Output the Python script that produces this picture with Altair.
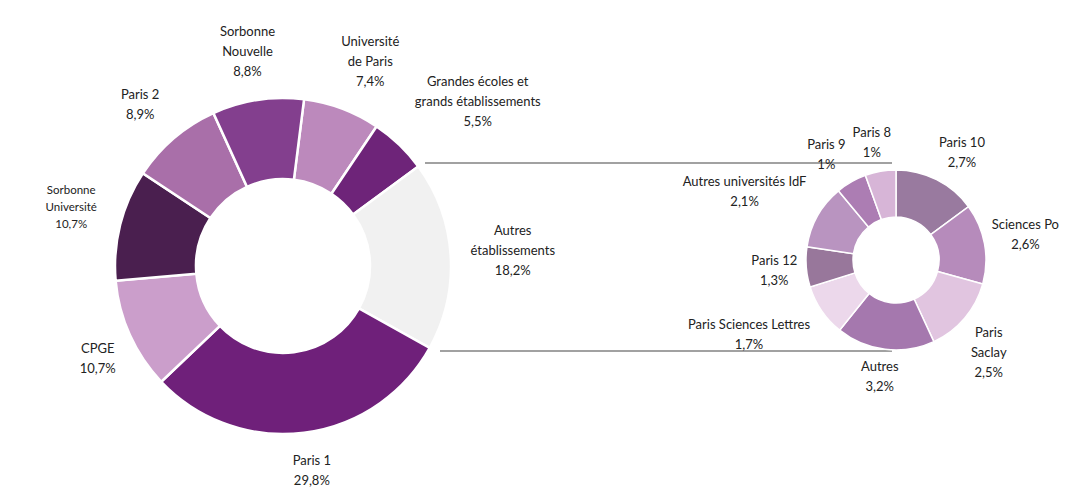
import math
import altair as alt
import pandas as pd

# ---- data -------------------------------------------------------------
big_names = ["Université de Paris", "Grandes écoles et grands établissements",
             "Autres établissements", "Paris 1", "CPGE", "Sorbonne Université",
             "Paris 2", "Sorbonne Nouvelle"]
big_label_lines = ["Université\nde Paris", "Grandes écoles et\ngrands établissements",
                   "Autres\nétablissements", "Paris 1", "CPGE", "Sorbonne\nUniversité",
                   "Paris 2", "Sorbonne\nNouvelle"]
big_values = [7.4, 5.5, 18.2, 29.8, 10.7, 10.7, 8.9, 8.8]
big_colors = ["#bc89bc", "#6e2479", "#f1f1f1", "#6f207a", "#cb9ecb", "#4a1f4f",
              "#a96fa9", "#833f8e"]

small_names = ["Paris 10", "Sciences Po", "Paris Saclay", "Autres",
               "Paris Sciences Lettres", "Paris 12", "Autres universités IdF",
               "Paris 9", "Paris 8"]
small_label_lines = ["Paris 10", "Sciences Po", "Paris\nSaclay", "Autres",
                     "Paris Sciences Lettres", "Paris 12", "Autres universités IdF",
                     "Paris 9", "Paris 8"]
small_values = [2.7, 2.6, 2.5, 3.2, 1.7, 1.3, 2.1, 1.0, 1.0]
small_colors = ["#997a9f", "#b68bbb", "#e1c5e0", "#a578ae", "#ecd8eb", "#98779b",
                "#b994c0", "#ac7db3", "#d7b5d7"]

SMALL_FONT_LABEL = "Sorbonne Université"
FONT = "Lato"
TEXT_COLOR = "#222222"


def pct(v):
    return f"{v:g}".replace(".", ",") + "%"


def frame(names, lines, values):
    txt = [l + "\n" + pct(v) for l, v in zip(lines, values)]
    return pd.DataFrame({
        "name": names,
        "value": values,
        "idx": list(range(len(names))),
        "txt": txt,
        "nlines": [t.count("\n") + 1 for t in txt],
        "maxlen": [max(len(s) for s in t.split("\n")) for t in txt],
    })


def donut(df, colors, cx, cy, r_out, r_in, start, r_anchor, cw, stroke_w):
    theta = alt.Theta("value:Q", stack=True,
                      scale=alt.Scale(range=[start, start + 2 * math.pi]))
    order = alt.Order("idx:Q", sort="ascending")
    arcs = alt.Chart(df).mark_arc(
        outerRadius=r_out, innerRadius=r_in, stroke="white", strokeWidth=stroke_w
    ).encode(
        theta=theta,
        order=order,
        color=alt.Color("name:N", scale=alt.Scale(domain=list(df["name"]), range=colors),
                        legend=None),
        x=alt.value(cx), y=alt.value(cy),
    )
    # label: anchor point on a circle at the slice's middle angle, text block pushed
    # outward from it by its half width / half height; then moved to the first line
    base = alt.Chart(df).transform_joinaggregate(
        total="sum(value)"
    ).transform_window(
        cum="sum(value)", sort=[alt.SortField("idx", order="ascending")]
    ).transform_calculate(
        mid=f"{start} + 2*PI*(datum.cum - datum.value/2)/datum.total",
        lhh=f"datum.name == '{SMALL_FONT_LABEL}' ? 8.5 : 10",
    ).transform_calculate(
        hw=f"datum.maxlen*{cw}",
        hh="datum.nlines*datum.lhh",
    ).transform_calculate(
        ax=f"{r_anchor}*sin(datum.mid) + datum.hw*clamp(2*sin(datum.mid), -1, 1)",
        ay=f"-{r_anchor}*cos(datum.mid) - datum.hh*clamp(2*cos(datum.mid), -1, 1)"
           " - (datum.nlines - 1)*datum.lhh",
    ).transform_calculate(
        th="atan2(datum.ax, -datum.ay)",
        rr="sqrt(datum.ax*datum.ax + datum.ay*datum.ay)",
    )
    enc = dict(theta=alt.Theta("th:Q", scale=None, stack=False),
               radius=alt.Radius("rr:Q", scale=None),
               x=alt.value(cx), y=alt.value(cy))
    labels = base.mark_text(
        font=FONT, fontSize=13, lineHeight=20, lineBreak="\n",
        align="center", baseline="middle", color=TEXT_COLOR
    ).encode(
        text=alt.condition(f"datum.name != '{SMALL_FONT_LABEL}'", "txt:N", alt.value("")),
        **enc,
    )
    labels_small = base.mark_text(
        font=FONT, fontSize=11.5, lineHeight=17, lineBreak="\n",
        align="center", baseline="middle", color=TEXT_COLOR
    ).encode(
        text=alt.condition(f"datum.name == '{SMALL_FONT_LABEL}'", "txt:N", alt.value("")),
        **enc,
    )
    return alt.layer(arcs, labels, labels_small)


big_df = frame(big_names, big_label_lines, big_values)
small_df = frame(small_names, small_label_lines, small_values)

big = donut(big_df, big_colors, cx=275, cy=258, r_out=168, r_in=87,
            start=math.radians(7.2), r_anchor=186, cw=3.15, stroke_w=2.5)
small = donut(small_df, small_colors, cx=888, cy=252, r_out=90, r_in=43,
              start=0.0, r_anchor=98, cw=3.0, stroke_w=1.5)

one = pd.DataFrame({"k": [0]})
rule_top = alt.Chart(one).mark_rule(color="#444444", strokeWidth=1.2).encode(
    x=alt.value(417), x2=alt.value(884), y=alt.value(155))
rule_bottom = alt.Chart(one).mark_rule(color="#444444", strokeWidth=1.2).encode(
    x=alt.value(432), x2=alt.value(884), y=alt.value(343))

chart = alt.layer(rule_top, rule_bottom, big, small).resolve_scale(
    theta="independent", color="independent"
).properties(
    width=1052, height=479, padding=0,
    autosize=alt.AutoSizeParams(type="none"),
).configure_view(stroke=None)

chart.save("out.html", embed_options={"renderer": "svg", "actions": False})
